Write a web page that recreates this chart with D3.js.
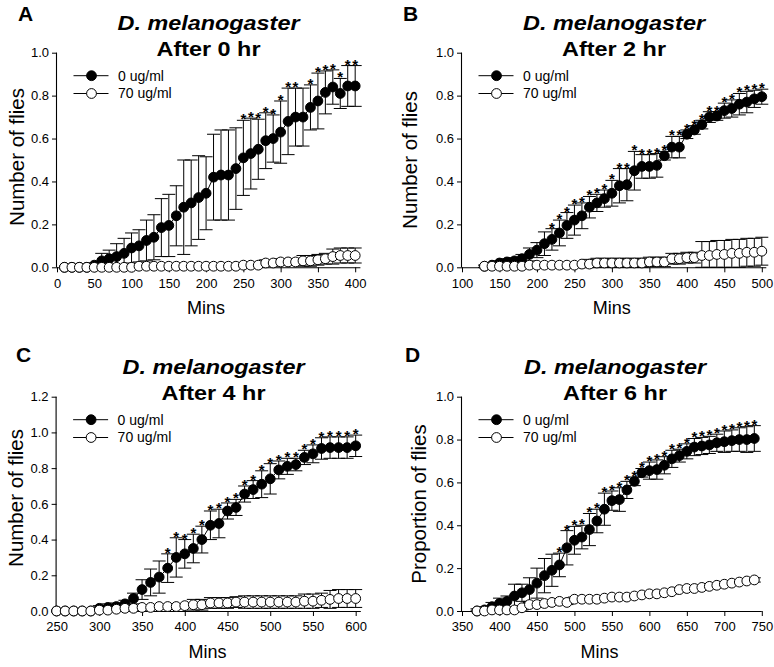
<!DOCTYPE html>
<html><head><meta charset="utf-8">
<script src="https://cdn.jsdelivr.net/npm/d3@7"></script>
<style>
body{margin:0;background:#fff}
svg{display:block}
text{font-family:"Liberation Sans",Arial,Helvetica,sans-serif;fill:#000}
</style>
</head><body>
<svg id="chart" width="774" height="667"></svg>
<script>
// ---------- DATA ----------
const legendLabels = ["0 ug/ml", "70 ug/ml"];
const yTicks10 = [0, 0.2, 0.4, 0.6, 0.8, 1.0];
const yTicks12 = [0, 0.2, 0.4, 0.6, 0.8, 1.0, 1.2];

// Panel A: After 0 hr
const minsA = [10,20,30,40,50,60,70,80,90,100,110,120,130,140,150,160,170,180,190,200,210,220,230,240,250,260,270,280,290,300,310,320,330,340,350,360,370,380,390,400];
const ctrlA = [0,0,0,0,0.01,0.03,0.04,0.05,0.065,0.09,0.10,0.125,0.14,0.185,0.195,0.24,0.28,0.30,0.325,0.345,0.42,0.43,0.43,0.46,0.51,0.53,0.55,0.59,0.60,0.63,0.68,0.70,0.70,0.745,0.775,0.815,0.84,0.81,0.845,0.845];
const ctrlAErr = [0,0,0,0,0.01,0.035,0.04,0.06,0.07,0.07,0.075,0.095,0.105,0.135,0.145,0.14,0.22,0.20,0.195,0.17,0.20,0.21,0.21,0.19,0.175,0.165,0.14,0.13,0.11,0.145,0.155,0.135,0.135,0.105,0.13,0.10,0.08,0.07,0.095,0.095];
const drugA = [0,0,0,0,0,0,0,0,0,0,0.005,0.005,0.005,0.005,0.005,0.005,0.005,0.005,0.005,0.005,0.005,0.005,0.005,0.005,0.01,0.01,0.01,0.02,0.02,0.025,0.025,0.025,0.03,0.03,0.035,0.04,0.05,0.055,0.055,0.055];
const drugAErr = [0,0,0,0,0,0,0,0,0,0,0,0,0,0,0,0,0,0,0,0,0,0,0,0,0,0,0,0.015,0.015,0.015,0.015,0.015,0.025,0.025,0.025,0.025,0.035,0.035,0.035,0.035];
const starsA = [250,260,270,280,290,300,310,320,340,350,360,370,380,390,400];
const xTicksA = [0,50,100,150,200,250,300,350,400];

// Panel B: After 2 hr
const minsB = [130,140,150,160,170,180,190,200,210,220,230,240,250,260,270,280,290,300,310,320,330,340,350,360,370,380,390,400,410,420,430,440,450,460,470,480,490,500];
const ctrlB = [0.005,0.01,0.02,0.025,0.03,0.04,0.06,0.08,0.11,0.13,0.16,0.195,0.22,0.24,0.28,0.30,0.32,0.345,0.38,0.385,0.45,0.47,0.47,0.475,0.52,0.56,0.56,0.62,0.64,0.665,0.70,0.705,0.73,0.74,0.76,0.77,0.785,0.795];
const ctrlBErr = [0.005,0.01,0.01,0.015,0.015,0.02,0.03,0.035,0.055,0.05,0.06,0.06,0.07,0.06,0.05,0.04,0.04,0.06,0.08,0.075,0.09,0.055,0.055,0.055,0.02,0.05,0.05,0.02,0.02,0.02,0.025,0.02,0.035,0.04,0.05,0.05,0.04,0.035];
const drugB = [0.005,0.005,0.005,0.005,0.005,0.005,0.01,0.01,0.01,0.01,0.01,0.01,0.01,0.015,0.015,0.02,0.02,0.02,0.02,0.02,0.02,0.02,0.025,0.025,0.025,0.04,0.04,0.045,0.045,0.055,0.055,0.06,0.06,0.065,0.065,0.07,0.07,0.075];
const drugBErr = [0,0,0,0,0,0,0,0,0,0,0,0,0,0,0.022,0.022,0.022,0.022,0.022,0.022,0.022,0.022,0.022,0.022,0.022,0.025,0.025,0.025,0.025,0.065,0.065,0.065,0.065,0.065,0.065,0.065,0.065,0.065];
const starsB = [220,230,240,250,260,270,280,290,300,310,320,330,340,350,360,370,380,390,400,410,420,430,440,450,460,470,480,490,500];
const xTicksB = [100,150,200,250,300,350,400,450,500];

// Panel C: After 4 hr
const minsC = [250,260,270,280,290,300,310,320,330,340,350,360,370,380,390,400,410,420,430,440,450,460,470,480,490,500,510,520,530,540,550,560,570,580,590,600];
const ctrlC = [0,0,0,0,0,0.015,0.02,0.025,0.04,0.07,0.12,0.16,0.19,0.24,0.30,0.32,0.35,0.40,0.48,0.49,0.56,0.58,0.655,0.68,0.71,0.74,0.79,0.81,0.82,0.86,0.88,0.91,0.915,0.915,0.915,0.925];
const ctrlCErr = [0,0,0,0,0,0.015,0.02,0.02,0.02,0.03,0.055,0.075,0.09,0.08,0.11,0.08,0.08,0.075,0.08,0.08,0.045,0.045,0.045,0.05,0.075,0.085,0.05,0.045,0.035,0.04,0.05,0.06,0.06,0.06,0.06,0.06];
const drugC = [0,0,0,0,0,0.005,0.005,0.01,0.015,0.015,0.02,0.02,0.025,0.025,0.025,0.03,0.035,0.035,0.045,0.045,0.045,0.05,0.05,0.05,0.05,0.05,0.05,0.05,0.05,0.055,0.055,0.06,0.065,0.07,0.07,0.07];
const drugCErr = [0,0,0,0,0,0,0.01,0.01,0.01,0.01,0.01,0.01,0.01,0.01,0.01,0.01,0.03,0.03,0.03,0.03,0.03,0.03,0.035,0.035,0.035,0.035,0.035,0.035,0.035,0.04,0.04,0.04,0.05,0.05,0.05,0.05];
const starsC = [380,390,400,410,420,430,440,450,460,470,480,490,500,510,520,530,540,550,560,570,580,590,600];
const xTicksC = [250,300,350,400,450,500,550,600];

// Panel D: After 6 hr
const minsD = [370,380,390,400,410,420,430,440,450,460,470,480,490,500,510,520,530,540,550,560,570,580,590,600,610,620,630,640,650,660,670,680,690,700,710,720,730,740];
const ctrlD = [0,0.005,0.02,0.035,0.045,0.07,0.085,0.10,0.13,0.165,0.19,0.215,0.295,0.33,0.345,0.38,0.42,0.475,0.515,0.52,0.565,0.605,0.645,0.655,0.66,0.68,0.71,0.725,0.745,0.765,0.77,0.775,0.785,0.79,0.795,0.80,0.80,0.805];
const ctrlDErr = [0.01,0.015,0.02,0.025,0.025,0.055,0.04,0.055,0.07,0.08,0.075,0.055,0.08,0.065,0.055,0.075,0.055,0.075,0.045,0.055,0.04,0.02,0.02,0.04,0.045,0.04,0.04,0.03,0.035,0.04,0.04,0.04,0.04,0.05,0.05,0.055,0.06,0.06];
const drugD = [0,0,0.005,0.005,0.005,0.005,0.015,0.03,0.03,0.035,0.04,0.045,0.04,0.055,0.055,0.055,0.055,0.06,0.065,0.065,0.065,0.07,0.075,0.08,0.08,0.085,0.09,0.10,0.105,0.105,0.11,0.115,0.12,0.125,0.13,0.135,0.14,0.145];
const drugDErr = [0,0,0,0,0,0,0.01,0.01,0.01,0.01,0.01,0.01,0.01,0.01,0.01,0.01,0.01,0.01,0.01,0.01,0.01,0.01,0.01,0.01,0.01,0.01,0.01,0.01,0.01,0.01,0.01,0.01,0.01,0.01,0.01,0.01,0.01,0.01];
const starsD = [480,490,500,510,520,530,540,550,560,570,580,590,600,610,620,630,640,650,660,670,680,690,700,710,720,730,740];
const xTicksD = [350,400,450,500,550,600,650,700,750];

// ---------- LAYOUT ----------
const panels = [
  {letter:"A", hr:"After 0 hr", ylab:"Number of flies", mins:minsA, ctrl:ctrlA, ctrlErr:ctrlAErr, drug:drugA, drugErr:drugAErr, stars:starsA, xTicks:xTicksA, yTicks:yTicks10,
   xDom:[0,407], xRange:[57,360.4], yMax:1.0, yRange:[267.3,52.7], letterXY:[18,20.5], ylabXY:[17,157], minsX:206, titleX:208.5},
  {letter:"B", hr:"After 2 hr", ylab:"Number of flies", mins:minsB, ctrl:ctrlB, ctrlErr:ctrlBErr, drug:drugB, drugErr:drugBErr, stars:starsB, xTicks:xTicksB, yTicks:yTicks10,
   xDom:[100,506], xRange:[462,766.3], yMax:1.0, yRange:[267.3,52.7], letterXY:[403,20.5], ylabXY:[410,160], minsX:611.7, titleX:614},
  {letter:"C", hr:"After 4 hr", ylab:"Number of flies", mins:minsC, ctrl:ctrlC, ctrlErr:ctrlCErr, drug:drugC, drugErr:drugCErr, stars:starsC, xTicks:xTicksC, yTicks:yTicks12,
   xDom:[250,606], xRange:[56.6,360.8], yMax:1.2, yRange:[611,396.7], letterXY:[16,362.3], ylabXY:[16,498], minsX:207.5, titleX:213.5},
  {letter:"D", hr:"After 6 hr", ylab:"Proportion of flies", mins:minsD, ctrl:ctrlD, ctrlErr:ctrlDErr, drug:drugD, drugErr:drugDErr, stars:starsD, xTicks:xTicksD, yTicks:yTicks10,
   xDom:[350,750], xRange:[462,761.8], yMax:1.0, yRange:[611,396.7], letterXY:[405,362.3], ylabXY:[419,504], minsX:599.5, titleX:615}
];

const svg = d3.select("#chart");
const R = 4.9, CAP = 6.5;

panels.forEach(p => {
  const g = svg.append("g");
  const x = d3.scaleLinear().domain(p.xDom).range(p.xRange);
  const y = d3.scaleLinear().domain([0, p.yMax]).range(p.yRange);
  const yBot = p.yRange[0], yTop = p.yRange[1], x0 = p.xRange[0];

  // axes
  const xAxis = d3.axisBottom(x).tickValues(p.xTicks).tickSize(5).tickPadding(6).tickFormat(d3.format("d"));
  const gx = g.append("g").attr("transform", `translate(0,${yBot})`).call(xAxis);
  const yAxis = d3.axisLeft(y).tickValues(p.yTicks).tickSize(5).tickPadding(3).tickFormat(d3.format(".1f"));
  const gy = g.append("g").attr("transform", `translate(${x0},0)`).call(yAxis);
  [gx, gy].forEach(a => {
    a.select(".domain").attr("stroke", "#000").attr("stroke-width", 1.1);
    a.selectAll(".tick line").attr("stroke", "#000").attr("stroke-width", 1);
    a.selectAll(".tick text").style("font-size", "13px").attr("fill", "#000");
  });
  gx.select(".domain").attr("d", `M${p.xRange[0]},0.5H${p.xRange[1]}`);
  gy.select(".domain").attr("d", `M-0.5,${yTop}V${yBot}`);

  // series drawing
  const series = [
    {vals:p.ctrl, errs:p.ctrlErr, fill:"#000"},
    {vals:p.drug, errs:p.drugErr, fill:"#fff"}
  ];
  series.forEach(s => {
    const pts = p.mins.map((m, i) => ({m, v:s.vals[i], e:s.errs[i]}));
    const eb = g.append("g").attr("stroke", "#000").attr("stroke-width", 1).attr("fill", "none");
    pts.filter(d => d.e > 0).forEach(d => {
      const cx = x(d.m), yt = y(d.v + d.e), yb = y(Math.max(d.v - d.e, 0));
      eb.append("line").attr("x1", cx).attr("x2", cx).attr("y1", yt).attr("y2", yb);
      eb.append("line").attr("x1", cx - CAP).attr("x2", cx + CAP).attr("y1", yt).attr("y2", yt);
      eb.append("line").attr("x1", cx - CAP).attr("x2", cx + CAP).attr("y1", yb).attr("y2", yb);
    });
    g.append("path").datum(pts)
      .attr("d", d3.line().x(d => x(d.m)).y(d => y(d.v)))
      .attr("fill", "none").attr("stroke", "#000").attr("stroke-width", 1);
    g.append("g").selectAll("circle").data(pts).join("circle")
      .attr("cx", d => x(d.m)).attr("cy", d => y(d.v)).attr("r", R)
      .attr("fill", s.fill).attr("stroke", "#000").attr("stroke-width", 1);
  });

  // significance stars
  g.append("g").selectAll("text").data(p.stars).join("text")
    .attr("x", m => x(m))
    .attr("y", m => { const i = p.mins.indexOf(m); return y(p.ctrl[i] + p.ctrlErr[i]) + 4; })
    .attr("text-anchor", "middle").style("font-size", "15px").style("font-weight", "bold").text("*");

  // legend
  [0, 1].forEach(k => {
    const ly = yTop + 23 + k * 17.8;
    g.append("line").attr("x1", x0 + 16.5).attr("x2", x0 + 51.5).attr("y1", ly).attr("y2", ly).attr("stroke", "#000").attr("stroke-width", 1);
    g.append("circle").attr("cx", x0 + 34.5).attr("cy", ly).attr("r", R)
      .attr("fill", k === 0 ? "#000" : "#fff").attr("stroke", "#000").attr("stroke-width", 1);
    g.append("text").attr("x", x0 + 61).attr("y", ly).attr("dy", "0.35em").style("font-size", "14px").text(legendLabels[k]);
  });

  // titles
  g.append("text").attr("x", p.titleX).attr("y", yTop - 23).attr("text-anchor", "middle")
    .style("font-size", "21px").style("font-weight", "bold").style("font-style", "italic")
    .attr("textLength", 182).attr("lengthAdjust", "spacingAndGlyphs").text("D. melanogaster");
  g.append("text").attr("x", p.titleX).attr("y", yTop + 3).attr("text-anchor", "middle")
    .style("font-size", "21px").style("font-weight", "bold")
    .attr("textLength", 104).attr("lengthAdjust", "spacingAndGlyphs").text(p.hr);

  // panel letter
  g.append("text").attr("x", p.letterXY[0]).attr("y", p.letterXY[1])
    .style("font-size", "21px").style("font-weight", "bold").text(p.letter);

  // axis labels
  g.append("text").attr("transform", `translate(${p.ylabXY[0]},${p.ylabXY[1]}) rotate(-90)`)
    .attr("text-anchor", "middle").attr("dy", "0.35em").style("font-size", "20.5px").text(p.ylab);
  g.append("text").attr("x", p.minsX).attr("y", yBot + 47).attr("text-anchor", "middle")
    .style("font-size", "18px").text("Mins");
});
</script>
</body></html>
